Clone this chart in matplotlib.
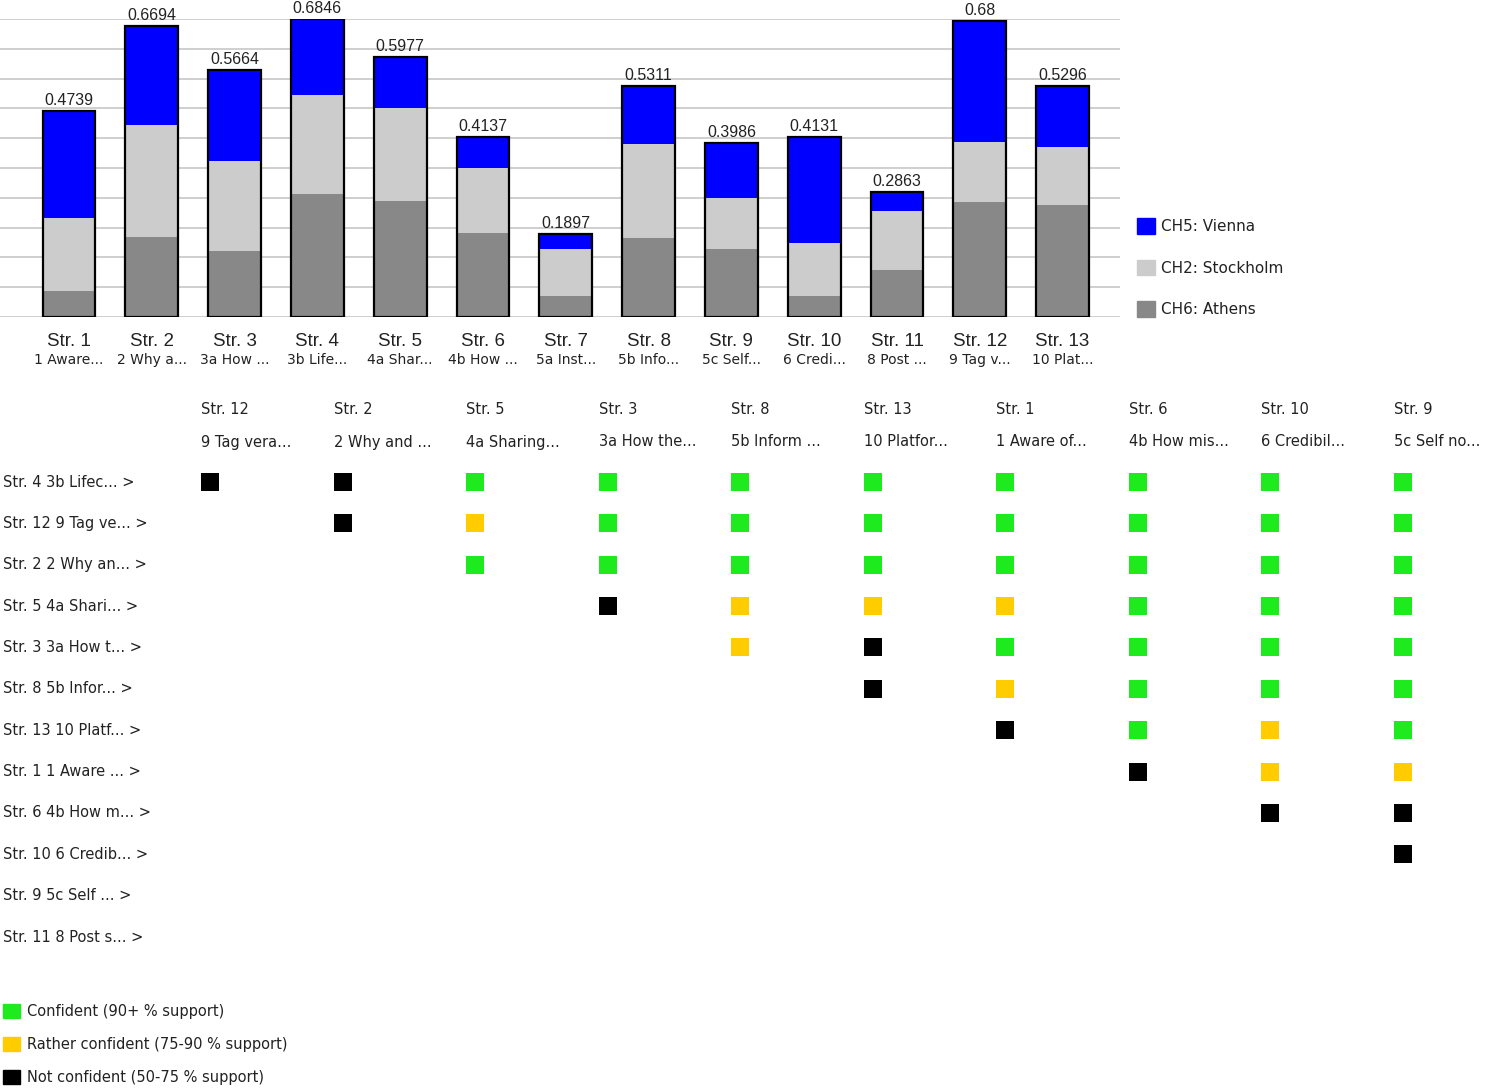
import numpy as np
import matplotlib
matplotlib.use("Agg")
import matplotlib.pyplot as plt
from matplotlib.patches import Patch
from matplotlib.transforms import blended_transform_factory

# ---------------- data: stacked bars ----------------
categories = ["Str. 1", "Str. 2", "Str. 3", "Str. 4", "Str. 5", "Str. 6", "Str. 7",
              "Str. 8", "Str. 9", "Str. 10", "Str. 11", "Str. 12", "Str. 13"]
subtitles = ["1 Aware...", "2 Why a...", "3a How ...", "3b Life...", "4a Shar...",
             "4b How ...", "5a Inst...", "5b Info...", "5c Self...", "6 Credi...",
             "8 Post ...", "9 Tag v...", "10 Plat..."]
totals = [0.4739, 0.6694, 0.5664, 0.6846, 0.5977, 0.4137, 0.1897, 0.5311, 0.3986,
          0.4131, 0.2863, 0.68, 0.5296]
athens = [0.060, 0.184, 0.152, 0.283, 0.266, 0.192, 0.049, 0.181, 0.156, 0.049,
          0.109, 0.265, 0.257]
stockholm = [0.168, 0.256, 0.207, 0.228, 0.213, 0.150, 0.107, 0.217, 0.117, 0.121,
             0.135, 0.136, 0.133]
vienna = [0.246, 0.229, 0.207, 0.174, 0.119, 0.072, 0.034, 0.133, 0.126, 0.243,
          0.043, 0.279, 0.140]
series_names = ["CH5: Vienna", "CH2: Stockholm", "CH6: Athens"]

# ---------------- data: confidence matrix ----------------
col_labels = ["Str. 12", "Str. 2", "Str. 5", "Str. 3", "Str. 8", "Str. 13", "Str. 1",
              "Str. 6", "Str. 10", "Str. 9"]
col_subtitles = ["9 Tag vera...", "2 Why and ...", "4a Sharing...", "3a How the...",
                 "5b Inform ...", "10 Platfor...", "1 Aware of...", "4b How mis...",
                 "6 Credibil...", "5c Self no..."]
row_labels = ["Str. 4 3b Lifec... >", "Str. 12 9 Tag ve... >", "Str. 2 2 Why an... >",
              "Str. 5 4a Shari... >", "Str. 3 3a How t... >", "Str. 8 5b Infor... >",
              "Str. 13 10 Platf... >", "Str. 1 1 Aware ... >", "Str. 6 4b How m... >",
              "Str. 10 6 Credib... >", "Str. 9 5c Self ... >", "Str. 11 8 Post s... >"]
# G = confident, Y = rather confident, K = not confident, . = none
matrix_rows = ["KKGGGGGGGG",
               ".KYGGGGGGG",
               "..GGGGGGGG",
               "...KYYYGGG",
               "....YKGGGG",
               ".....KYGGG",
               "......KGYG",
               ".......KYY",
               "........KK",
               ".........K",
               "..........",
               ".........."]
level_codes = ["G", "Y", "K"]
level_names = ["Confident (90+ % support)", "Rather confident (75-90 % support)",
               "Not confident (50-75 % support)"]

# ---------------- styles ----------------
C_VIENNA, C_STOCK, C_ATHENS = "#0000FF", "#CCCCCC", "#888888"
level_colors = {"G": "#1EEB1E", "Y": "#FFCC00", "K": "#000000"}
TXT = "#222222"

W, H = 1490, 1089
fig = plt.figure(figsize=(W / 100, H / 100), dpi=100)

def fx(px):
    return px / W

def fy(py):
    return 1 - py / H

# ---------------- bar chart ----------------
ax = fig.add_axes([0, fy(317), fx(1120), fy(19) - fy(317)])
x = np.arange(len(categories))
ymax = 0.6846
bw = 0.64
ax.bar(x, athens, bw, color=C_ATHENS, zorder=2, linewidth=0)
ax.bar(x, stockholm, bw, bottom=athens, color=C_STOCK, zorder=2, linewidth=0)
bottom2 = [a + s for a, s in zip(athens, stockholm)]
ax.bar(x, vienna, bw, bottom=bottom2, color=C_VIENNA, zorder=2, linewidth=0)
ax.bar(x, totals, bw, fill=False, edgecolor="black", linewidth=1.6, zorder=3)

ax.set_xlim(-69 / 82.8, (1120 - 69) / 82.8)
ax.set_ylim(0, ymax)
ax.set_yticks(np.linspace(0, ymax, 11))
ax.yaxis.grid(True, color="#CFCFCF", linewidth=1.4, zorder=0)
ax.set_axisbelow(True)
ax.tick_params(left=False, bottom=False, labelleft=False, labelbottom=False)
for s in ax.spines.values():
    s.set_visible(False)

for i, (t, cat, sub) in enumerate(zip(totals, categories, subtitles)):
    ax.annotate(f"{t:g}", xy=(i, t), xytext=(0, 3), textcoords="offset pixels",
                ha="center", va="bottom", fontsize=11.5, family="Liberation Sans",
                color=TXT)
    ax.annotate(cat, xy=(i, 0), xycoords=("data", "axes fraction"), xytext=(0, -24),
                textcoords="offset pixels", ha="center", va="center",
                fontsize=13.5, family="Liberation Sans", color=TXT)
    ax.annotate(sub, xy=(i, 0), xycoords=("data", "axes fraction"), xytext=(0, -43),
                textcoords="offset pixels", ha="center", va="center",
                fontsize=10, family="DejaVu Sans", color=TXT)

bar_handles = [Patch(color=C_VIENNA), Patch(color=C_STOCK), Patch(color=C_ATHENS)]
fig.legend(bar_handles, series_names, loc="upper left",
           bbox_to_anchor=(fx(1137), fy(218.5)), frameon=False,
           handlelength=1.15, handleheight=1.15, handletextpad=0.45,
           labelspacing=1.68, borderpad=0, borderaxespad=0,
           labelcolor=TXT, prop={"family": "DejaVu Sans", "size": 11})

# ---------------- matrix ----------------
mx = fig.add_axes([fx(210 - 66.25), fy(482 + 455 / 11 * 11.5),
                   fx(1403 + 66.25) - fx(210 - 66.25),
                   (455 / 11 * 12) / H])
ncol, nrow = len(col_labels), len(row_labels)
mx.set_xlim(-0.5, ncol - 0.5)
mx.set_ylim(nrow - 0.5, -0.5)
mx.axis("off")

for code in level_codes:
    xs, ys = [], []
    for r, row in enumerate(matrix_rows):
        for c, ch in enumerate(row):
            if ch == code:
                xs.append(c)
                ys.append(r)
    mx.scatter(xs, ys, marker="s", s=155, color=level_colors[code], linewidths=0)

tr_col = blended_transform_factory(mx.transData, fig.transFigure)
for c, (lab, sub) in enumerate(zip(col_labels, col_subtitles)):
    mx.text(c - 0.068, fy(409), lab, transform=tr_col, ha="left", va="center",
            fontsize=10.5, color=TXT)
    mx.text(c - 0.068, fy(442), sub, transform=tr_col, ha="left", va="center",
            fontsize=10.5, color=TXT)

tr_row = blended_transform_factory(fig.transFigure, mx.transData)
for r, lab in enumerate(row_labels):
    mx.text(fx(3), r, lab, transform=tr_row, ha="left", va="center",
            fontsize=10.5, color=TXT)

lvl_handles = [Patch(color=level_colors[c]) for c in level_codes]
fig.legend(lvl_handles, level_names, loc="upper left",
           bbox_to_anchor=(fx(3), fy(1004)), frameon=False,
           handlelength=1.15, handleheight=1.15, handletextpad=0.5,
           labelspacing=1.21, borderpad=0, borderaxespad=0,
           labelcolor=TXT, prop={"family": "DejaVu Sans", "size": 10.5})

fig.savefig("out.png", dpi=100, facecolor="white")
